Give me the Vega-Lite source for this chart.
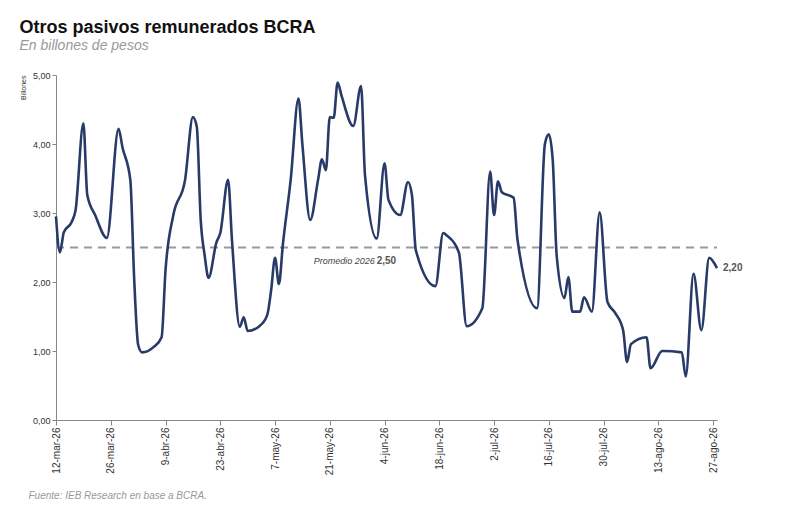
{
  "$schema": "https://vega.github.io/schema/vega-lite/v6.json",
  "width": 661,
  "height": 345,
  "autosize": "none",
  "padding": {"left": 56, "top": 75, "right": 83, "bottom": 98},
  "background": "white",
  "config": {"view": {"stroke": null}, "font": "Liberation Sans"},
  "title": {
    "text": "Otros pasivos remunerados BCRA",
    "subtitle": "En billones de pesos",
    "anchor": "start",
    "dx": 0,
    "offset": 18,
    "fontSize": 18,
    "fontWeight": "bold",
    "color": "#111",
    "subtitleFontSize": 14,
    "subtitleFontStyle": "italic",
    "subtitleColor": "#999",
    "subtitlePadding": 2
  },
  "datasets": {
    "serie": [
      {"fecha": "2026-03-12", "v": 2.95}, {"fecha": "2026-03-13", "v": 2.43}, {"fecha": "2026-03-14", "v": 2.72},
      {"fecha": "2026-03-16", "v": 2.87}, {"fecha": "2026-03-17", "v": 3.04}, {"fecha": "2026-03-19", "v": 4.3},
      {"fecha": "2026-03-20", "v": 3.26}, {"fecha": "2026-03-22", "v": 2.97}, {"fecha": "2026-03-25", "v": 2.64},
      {"fecha": "2026-03-28", "v": 4.22}, {"fecha": "2026-03-29", "v": 3.95}, {"fecha": "2026-03-31", "v": 3.48},
      {"fecha": "2026-04-01", "v": 2.03}, {"fecha": "2026-04-02", "v": 1.09}, {"fecha": "2026-04-03", "v": 0.98},
      {"fecha": "2026-04-06", "v": 1.06}, {"fecha": "2026-04-08", "v": 1.2}, {"fecha": "2026-04-09", "v": 2.17},
      {"fecha": "2026-04-11", "v": 2.97}, {"fecha": "2026-04-14", "v": 3.48}, {"fecha": "2026-04-16", "v": 4.39},
      {"fecha": "2026-04-17", "v": 4.25}, {"fecha": "2026-04-18", "v": 2.9}, {"fecha": "2026-04-19", "v": 2.39},
      {"fecha": "2026-04-20", "v": 2.06}, {"fecha": "2026-04-22", "v": 2.57}, {"fecha": "2026-04-23", "v": 2.71},
      {"fecha": "2026-04-25", "v": 3.48}, {"fecha": "2026-04-26", "v": 2.6}, {"fecha": "2026-04-28", "v": 1.35},
      {"fecha": "2026-04-29", "v": 1.49}, {"fecha": "2026-04-30", "v": 1.29}, {"fecha": "2026-05-03", "v": 1.36},
      {"fecha": "2026-05-05", "v": 1.52}, {"fecha": "2026-05-06", "v": 1.88}, {"fecha": "2026-05-07", "v": 2.35},
      {"fecha": "2026-05-08", "v": 1.97}, {"fecha": "2026-05-09", "v": 2.54}, {"fecha": "2026-05-11", "v": 3.48},
      {"fecha": "2026-05-13", "v": 4.66}, {"fecha": "2026-05-14", "v": 3.99}, {"fecha": "2026-05-16", "v": 2.9},
      {"fecha": "2026-05-18", "v": 3.48}, {"fecha": "2026-05-19", "v": 3.78}, {"fecha": "2026-05-20", "v": 3.62},
      {"fecha": "2026-05-21", "v": 4.39}, {"fecha": "2026-05-22", "v": 4.38}, {"fecha": "2026-05-23", "v": 4.89},
      {"fecha": "2026-05-24", "v": 4.7}, {"fecha": "2026-05-27", "v": 4.26}, {"fecha": "2026-05-29", "v": 4.84},
      {"fecha": "2026-05-30", "v": 3.55}, {"fecha": "2026-06-02", "v": 2.63}, {"fecha": "2026-06-04", "v": 3.72},
      {"fecha": "2026-06-05", "v": 3.19}, {"fecha": "2026-06-08", "v": 2.97}, {"fecha": "2026-06-10", "v": 3.45},
      {"fecha": "2026-06-11", "v": 3.26}, {"fecha": "2026-06-12", "v": 2.46}, {"fecha": "2026-06-17", "v": 1.94},
      {"fecha": "2026-06-19", "v": 2.71}, {"fecha": "2026-06-20", "v": 2.67}, {"fecha": "2026-06-23", "v": 2.43},
      {"fecha": "2026-06-25", "v": 1.36}, {"fecha": "2026-06-29", "v": 1.62}, {"fecha": "2026-07-01", "v": 3.6},
      {"fecha": "2026-07-02", "v": 2.97}, {"fecha": "2026-07-03", "v": 3.46}, {"fecha": "2026-07-04", "v": 3.3},
      {"fecha": "2026-07-07", "v": 3.22}, {"fecha": "2026-07-08", "v": 2.61}, {"fecha": "2026-07-13", "v": 1.62},
      {"fecha": "2026-07-15", "v": 4.0}, {"fecha": "2026-07-16", "v": 4.14}, {"fecha": "2026-07-17", "v": 3.77},
      {"fecha": "2026-07-18", "v": 2.39}, {"fecha": "2026-07-20", "v": 1.77}, {"fecha": "2026-07-21", "v": 2.07},
      {"fecha": "2026-07-22", "v": 1.57}, {"fecha": "2026-07-24", "v": 1.57}, {"fecha": "2026-07-25", "v": 1.78},
      {"fecha": "2026-07-27", "v": 1.57}, {"fecha": "2026-07-29", "v": 3.01}, {"fecha": "2026-07-31", "v": 1.71},
      {"fecha": "2026-08-02", "v": 1.55}, {"fecha": "2026-08-04", "v": 1.3}, {"fecha": "2026-08-05", "v": 0.84},
      {"fecha": "2026-08-06", "v": 1.1}, {"fecha": "2026-08-10", "v": 1.2}, {"fecha": "2026-08-11", "v": 0.75},
      {"fecha": "2026-08-14", "v": 1.0}, {"fecha": "2026-08-19", "v": 0.98}, {"fecha": "2026-08-20", "v": 0.63},
      {"fecha": "2026-08-22", "v": 2.12}, {"fecha": "2026-08-24", "v": 1.3}, {"fecha": "2026-08-26", "v": 2.35},
      {"fecha": "2026-08-28", "v": 2.2}
    ]
  },
  "layer": [
    {
      "data": {"values": [{"a": "2026-03-12", "b": "2026-08-28", "v": 2.5}]},
      "mark": {"type": "rule", "color": "#9a9a9a", "strokeWidth": 2, "strokeDash": [8, 6]},
      "encoding": {
        "x": {"field": "a", "type": "temporal"},
        "x2": {"field": "b"},
        "y": {"field": "v", "type": "quantitative"}
      }
    },
    {
      "data": {"name": "serie"},
      "mark": {"type": "line", "color": "#283a68", "strokeWidth": 2.6, "interpolate": "monotone"},
      "encoding": {
        "x": {
          "field": "fecha", "type": "temporal",
          "scale": {"type": "utc", "domain": [{"year": 2026, "month": 3, "date": 12, "utc": true}, {"year": 2026, "month": 8, "date": 28, "utc": true}]},
          "axis": {
            "values": [
              {"year": 2026, "month": 3, "date": 12, "utc": true}, {"year": 2026, "month": 3, "date": 26, "utc": true},
              {"year": 2026, "month": 4, "date": 9, "utc": true}, {"year": 2026, "month": 4, "date": 23, "utc": true},
              {"year": 2026, "month": 5, "date": 7, "utc": true}, {"year": 2026, "month": 5, "date": 21, "utc": true},
              {"year": 2026, "month": 6, "date": 4, "utc": true}, {"year": 2026, "month": 6, "date": 18, "utc": true},
              {"year": 2026, "month": 7, "date": 2, "utc": true}, {"year": 2026, "month": 7, "date": 16, "utc": true},
              {"year": 2026, "month": 7, "date": 30, "utc": true}, {"year": 2026, "month": 8, "date": 13, "utc": true},
              {"year": 2026, "month": 8, "date": 27, "utc": true}
            ],
            "labelExpr": "utcFormat(datum.value, '%-d') + '-' + ['ene','feb','mar','abr','may','jun','jul','ago','sep','oct','nov','dic'][utcmonth(datum.value)] + '-' + utcFormat(datum.value, '%y')",
            "labelAngle": -90,
            "labelFontSize": 10,
            "labelColor": "#333",
            "grid": false,
            "domainColor": "#888",
            "tickColor": "#888",
            "tickSize": 5,
            "title": "Fuente: IEB Research en base a BCRA.",
            "titleAnchor": "start",
            "titleAlign": "left",
            "titleX": -28,
            "titleY": 70,
            "titleFontSize": 10,
            "titleFontStyle": "italic",
            "titleFontWeight": "normal",
            "titleColor": "#999"
          }
        },
        "y": {
          "field": "v", "type": "quantitative",
          "scale": {"domain": [0, 5], "nice": false},
          "axis": {
            "values": [0, 0.5, 1, 1.5, 2, 2.5, 3, 3.5, 4, 4.5, 5],
            "labelExpr": "replace(format(datum.value, '.2f'), '.', ',')",
            "labelFontSize": 9,
            "labelColor": "#333",
            "grid": false,
            "domainColor": "#888",
            "tickColor": "#888",
            "tickSize": 4,
            "title": "Billones",
            "titleFontSize": 7,
            "titleFontWeight": "normal",
            "titleColor": "#333",
            "titleAnchor": "end",
            "titlePadding": 6
          }
        }
      }
    },
    {
      "data": {"values": [{"f": "2026-06-02", "v": 2.5, "t": "Promedio 2026"}]},
      "mark": {"type": "text", "align": "right", "dy": 13, "dx": -2, "fontSize": 9, "fontStyle": "italic", "color": "#444"},
      "encoding": {"x": {"field": "f", "type": "temporal"}, "y": {"field": "v", "type": "quantitative"}, "text": {"field": "t"}}
    },
    {
      "data": {"values": [{"f": "2026-06-02", "v": 2.5, "t": "2,50"}]},
      "mark": {"type": "text", "align": "left", "dy": 13, "dx": 0, "fontSize": 10, "fontWeight": "bold", "color": "#555"},
      "encoding": {"x": {"field": "f", "type": "temporal"}, "y": {"field": "v", "type": "quantitative"}, "text": {"field": "t"}}
    },
    {
      "data": {"values": [{"f": "2026-08-28", "v": 2.2, "t": "2,20"}]},
      "mark": {"type": "text", "align": "left", "dx": 6, "dy": 0, "fontSize": 10, "fontWeight": "bold", "color": "#555"},
      "encoding": {"x": {"field": "f", "type": "temporal"}, "y": {"field": "v", "type": "quantitative"}, "text": {"field": "t"}}
    }
  ]
}
